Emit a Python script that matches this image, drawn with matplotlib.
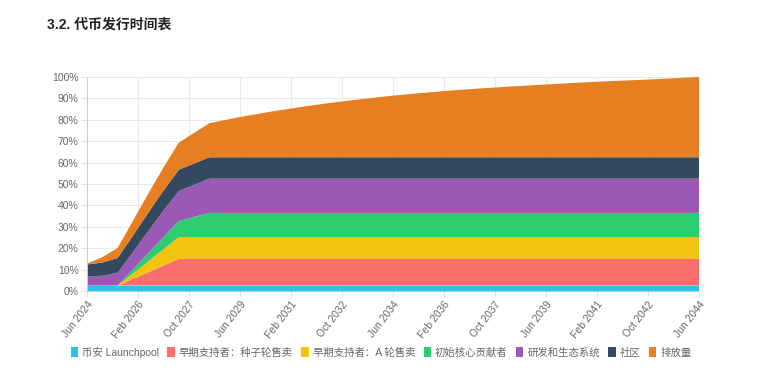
import matplotlib
matplotlib.use("Agg")
import matplotlib.pyplot as plt
from matplotlib.patches import Patch

plt.rcParams['font.family'] = ['Liberation Sans', 'Noto Sans CJK SC', 'DejaVu Sans']

# months since Jun 2024
months = [0, 6, 12, 18, 24, 30, 36, 42, 48, 60, 72, 84, 96, 108, 120,
          132, 144, 156, 168, 180, 192, 204, 216, 228, 240]

# share of total supply (%) unlocked
launchpool = [2.5] * 25
seed = [0, 0, 0, 3.1, 6.25, 9.4, 12.5, 12.5, 12.5] + [12.5] * 16
series_a = [0, 0, 0, 2.55, 5.1, 7.65, 10.2, 10.2, 10.2] + [10.2] * 16
core = [0, 0, 0, 1.9, 3.8, 5.7, 7.5, 9.4, 11.3] + [11.3] * 16
rnd = [4.4, 4.6, 6.0, 8.0, 10.3, 12.3, 14.0, 15.0, 16.0] + [16.0] * 16
community = [5.5, 6.2, 6.9, 7.8, 8.6, 9.4, 10.0, 10.0, 10.0] + [10.0] * 16
emission = [0.4, 2.5, 4.7, 6.9, 8.9, 10.8, 12.6, 14.3, 15.9, 18.8, 21.3, 23.5,
            25.5, 27.2, 28.8, 30.1, 31.3, 32.3, 33.2, 34.0, 34.8, 35.5, 36.1,
            36.8, 37.5]

labels = ['币安 Launchpool', '早期支持者：种子轮售卖', '早期支持者：A 轮售卖',
          '初始核心贡献者', '研发和生态系统', '社区', '排放量']
colors = ['#27c3ec', '#fa6e6e', '#f1c40f', '#2ecc71', '#9b59b6', '#34495e', '#e67e22']

tick_pos = list(range(0, 241, 20))
tick_labels = ['Jun 2024', 'Feb 2026', 'Oct 2027', 'Jun 2029', 'Feb 2031', 'Oct 2032',
               'Jun 2034', 'Feb 2036', 'Oct 2037', 'Jun 2039', 'Feb 2041', 'Oct 2042',
               'Jun 2044']

fig = plt.figure(figsize=(7.62, 3.90), dpi=100)
ax = fig.add_axes([87 / 762, 1 - 291 / 390, 612 / 762, 214 / 390])

ax.stackplot(months, launchpool, seed, series_a, core, rnd, community, emission,
             colors=colors, linewidth=0)

ax.set_xlim(0, 240)
ax.set_ylim(0, 100)
ax.set_xticks(tick_pos)
ax.set_xticklabels(tick_labels, rotation=52, ha='right', rotation_mode='anchor')
ax.set_yticks(range(0, 101, 10))
ax.set_yticklabels([f'{v}%' for v in range(0, 101, 10)])
ax.tick_params(colors='#666666', labelsize=7.5, length=4, width=0.6, color='#dddddd', pad=2)
ax.grid(True, color='#e8e8e8', linewidth=0.7)
ax.set_axisbelow(True)
for s in ['top', 'right']:
    ax.spines[s].set_visible(False)
for s in ['left', 'bottom']:
    ax.spines[s].set_color('#cccccc')
    ax.spines[s].set_linewidth(0.7)

fig.text(47 / 762, 1 - 25 / 390, '3.2. 代币发行时间表', fontsize=10, fontweight='bold',
         color='#222222', va='center', ha='left')

handles = [Patch(facecolor=c, edgecolor='none') for c in colors]
fig.legend(handles, labels, loc='center', bbox_to_anchor=(0.5, 1 - 352 / 390), ncol=7,
           frameon=False, fontsize=7.5, handlelength=0.7, handleheight=1.0,
           handletextpad=0.4, columnspacing=0.8, labelcolor='#666666')

fig.savefig('out.png', dpi=100, facecolor='white')
